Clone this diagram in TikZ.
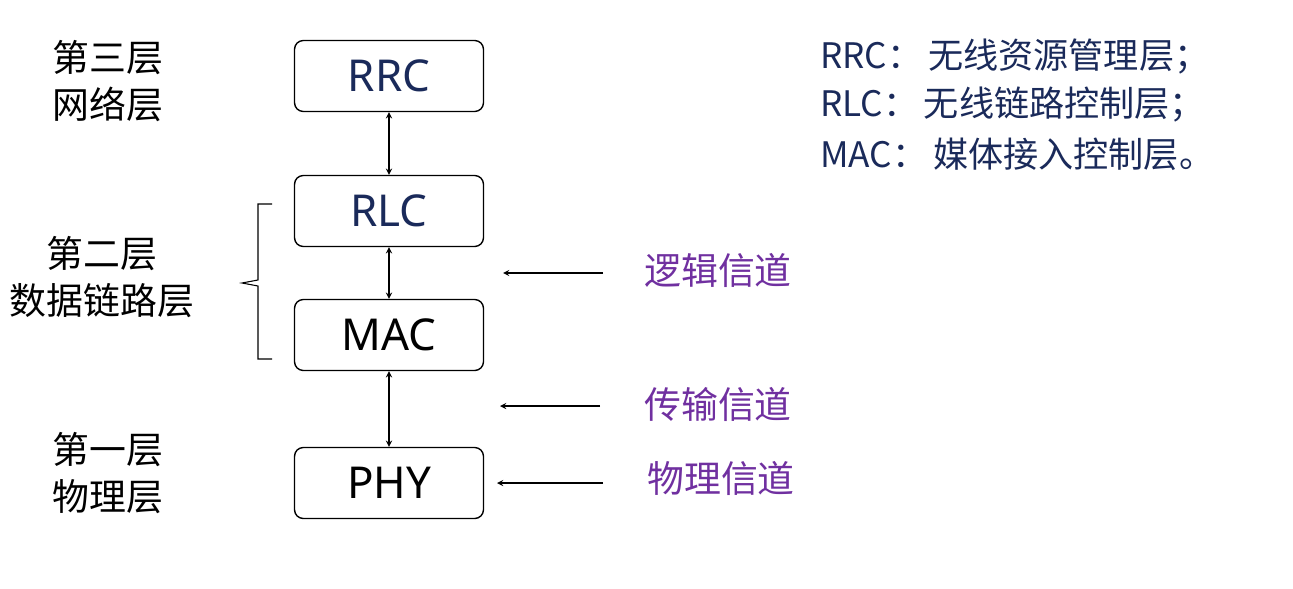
\documentclass[tikz,border=0pt]{standalone}
\usepackage{fontspec}
\setmainfont{Noto Sans}
\newfontfamily\cjk{Noto Sans CJK SC}
\definecolor{pur}{HTML}{7030A0}
\definecolor{navy}{HTML}{1A2A5A}
\begin{document}
\begin{tikzpicture}[x=0.02cm,y=-0.02cm,
 box/.style={draw,rounded corners=5pt,minimum width=3.78cm,minimum height=1.42cm,font=\fontsize{25}{27}\selectfont,line width=0.8pt},
 arr/.style={-stealth,line width=0.6pt},
 lab/.style={font=\cjk\fontsize{21}{27}\selectfont,align=center},
 ch/.style={font=\cjk\fontsize{21}{24}\selectfont,text=pur,anchor=west},
 note/.style={font=\cjk\fontsize{20}{24}\selectfont,text=navy,anchor=west}]
\useasboundingbox (0,0) rectangle (1293,588);
\node[box,text=navy] (rrc) at (389,76) {RRC};
\node[box,text=navy] (rlc) at (389,211) {RLC};
\node[box] (mac) at (389,335) {MAC};
\node[box] (phy) at (389,483) {PHY};
\draw[arr,stealth-stealth] (rrc) -- (rlc);
\draw[arr,stealth-stealth] (rlc) -- (mac);
\draw[arr,stealth-stealth] (mac) -- (phy);
\draw[line width=0.6pt] (272,204) -- (258,204) -- (258,280) -- (242,283) -- (258,286) -- (258,359) -- (272,359);
\node[lab] (l3) at (108,81) {第三层\\网络层};
\node[lab] (l2) at (102,277) {第二层\\数据链路层};
\node[lab] (l1) at (108,473) {第一层\\物理层};
\coordinate (a1) at (603,273); \coordinate (b1) at (503,273);
\coordinate (a2) at (600,406); \coordinate (b2) at (500,406);
\coordinate (a3) at (603,483); \coordinate (b3) at (497,483);
\draw[arr] (a1) -- (b1); \draw[arr] (a2) -- (b2); \draw[arr] (a3) -- (b3);
\node[ch] (c1) at (638,270) {逻辑信道};
\node[ch] (c2) at (638,404) {传输信道};
\node[ch] (c3) at (641,478) {物理信道};
\node[note] (n1) at (814,57) {RRC：\,无线资源管理层；};
\node[note] (n2) at (814,105) {RLC：\,无线链路控制层；};
\node[note] (n3) at (814,154) {MAC：\,媒体接入控制层。};
\end{tikzpicture}
\end{document}
